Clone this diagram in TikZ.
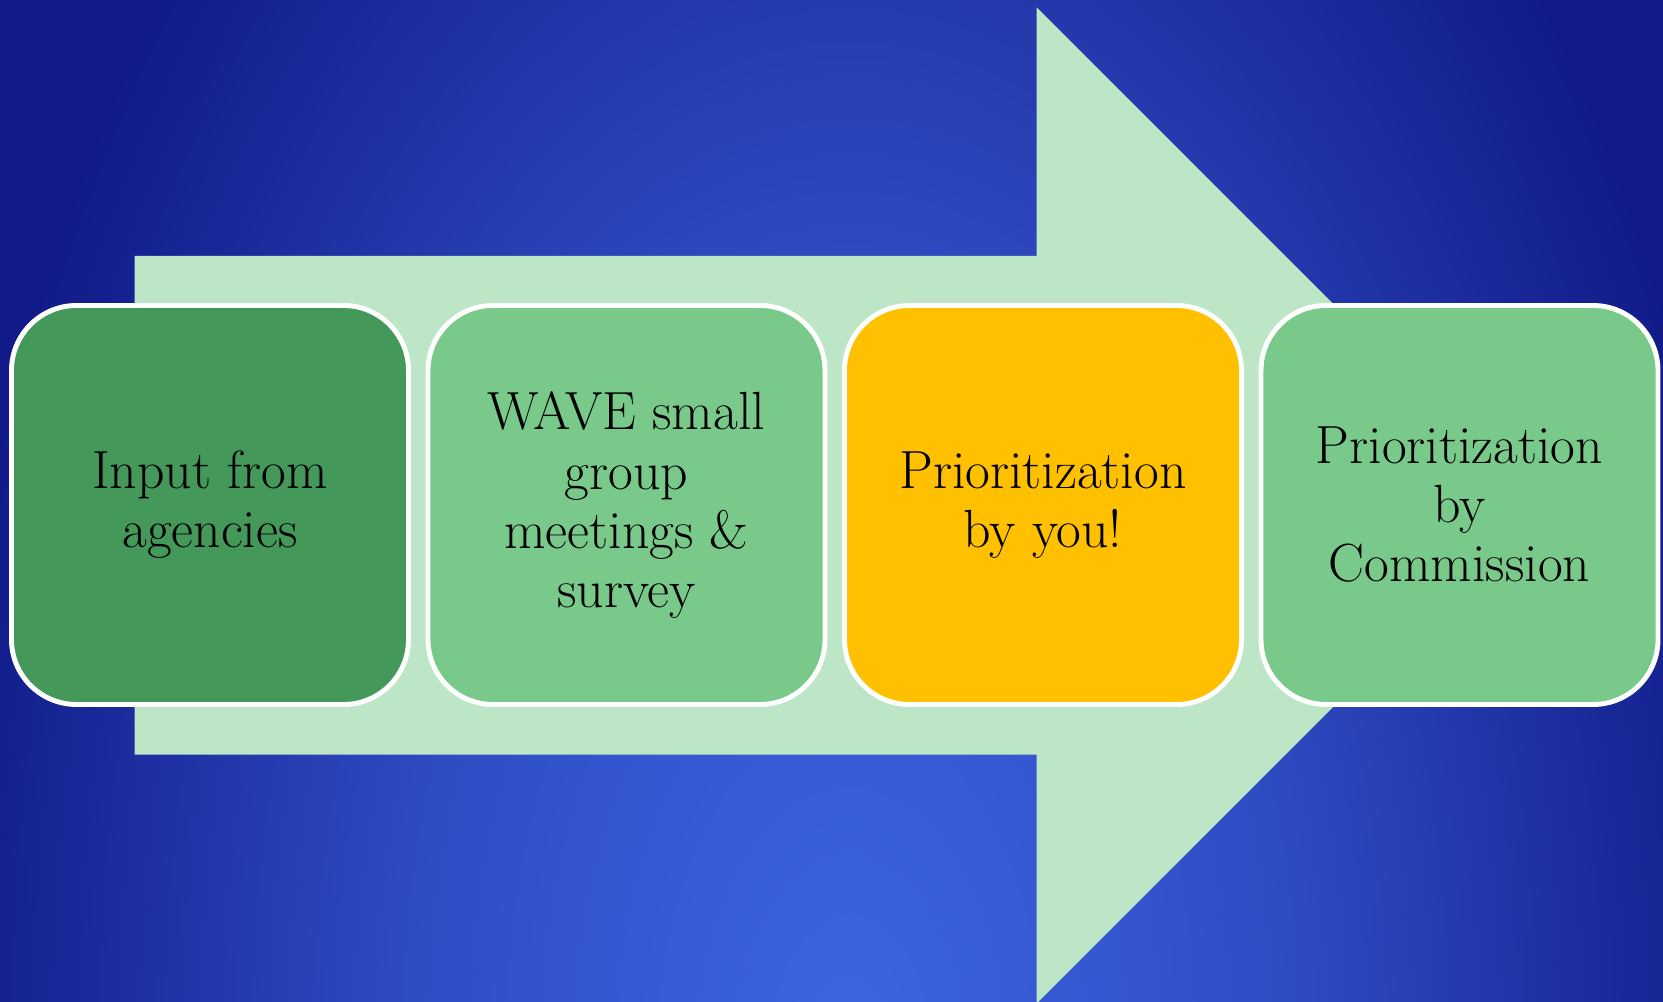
\documentclass[tikz,border=0pt]{standalone}
\usepackage{tikz}
\usetikzlibrary{shapes.geometric, arrows}
\definecolor{BGlight}{HTML}{3E65E3}
\definecolor{BGmid}{HTML}{2E4CC2}
\definecolor{BGdark}{HTML}{111A88}
\definecolor{GRN1}{HTML}{43985A}
\definecolor{GRN2}{HTML}{78C98A}
\definecolor{YEL1}{HTML}{FFC000}
\definecolor{ARW}{HTML}{BDE6C6}
\pgfdeclareradialshading{bgglow}{\pgfpoint{0bp}{0bp}}{color(0bp)=(BGlight); color(12bp)=(BGmid); color(25bp)=(BGdark); color(50bp)=(BGdark)}
\tikzstyle{stage} = [rectangle, rounded corners=0.65cm, minimum width=3.97cm, minimum height=3.99cm, align=center, draw=white, line width=1.4pt, inner sep=0pt, font=\fontsize{15.3}{16.8}\selectfont]

\begin{document}
\begin{tikzpicture}[node distance=4.165cm]

\useasboundingbox (0,0) rectangle (16.63,10.02);
\begin{scope}
\clip (0,0) rectangle (16.63,10.02);
\shade[shading=bgglow] (-0.7,-16.5) rectangle (17.7,15.5);
\end{scope}

% big arrow behind the steps
\fill[ARW] (1.345,2.473) -- (1.345,7.46) -- (10.367,7.46) -- (10.367,9.947) -- (15.347,4.967) -- (10.367,-0.014) -- (10.367,2.473) -- cycle;

\node (inp) [stage, fill=GRN1] at (2.10,4.97) {Input from\\agencies};
\node (wave) [stage, fill=GRN2, right of=inp] {WAVE small\\group\\meetings \&\\survey};
\node (prio) [stage, fill=YEL1, right of=wave] {Prioritization\\by you!};
\node (comm) [stage, fill=GRN2, right of=prio] {Prioritization\\by\\Commission};

\end{tikzpicture}
\end{document}
